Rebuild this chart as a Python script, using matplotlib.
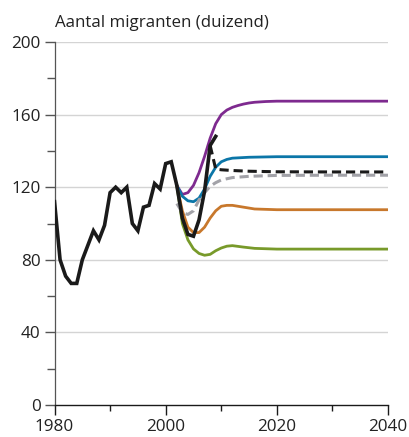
import matplotlib.pyplot as plt
from matplotlib.ticker import MultipleLocator

# historic series (black)
hist_years = list(range(1980, 2010))
hist_vals = [112, 80, 71, 67, 67, 80, 88, 96, 91, 99,
             117, 120, 117, 120, 100, 96, 109, 110, 122, 119,
             133, 134, 121, 103, 94, 93, 102, 118, 143, 148]

# scenarios
purple_years = [2002, 2003, 2004, 2005, 2006, 2007, 2008, 2009, 2010, 2011, 2012, 2013, 2014, 2015, 2016, 2018, 2020, 2030, 2040]
purple_vals = [121, 116, 117, 121, 128, 137, 147, 155, 160, 162.5, 164, 165, 165.8, 166.4, 166.8, 167.2, 167.4, 167.4, 167.4]

blue_years = [2002, 2003, 2004, 2005, 2006, 2007, 2008, 2009, 2010, 2011, 2012, 2015, 2020, 2030, 2040]
blue_vals = [121, 115, 112.5, 112, 114, 119, 126, 131, 134, 135.3, 136, 136.5, 136.8, 136.8, 136.8]

orange_years = [2002, 2003, 2004, 2005, 2006, 2007, 2008, 2009, 2010, 2011, 2012, 2014, 2016, 2020, 2030, 2040]
orange_vals = [121, 107, 98, 95, 95, 98, 103, 107, 109.5, 110, 110, 109, 108, 107.6, 107.6, 107.6]

green_years = [2002, 2003, 2004, 2005, 2006, 2007, 2008, 2009, 2010, 2011, 2012, 2014, 2016, 2020, 2030, 2040]
green_vals = [121, 100, 91, 86, 83.5, 82.5, 83, 85, 86.5, 87.5, 87.8, 87, 86.3, 85.9, 85.9, 85.9]

gray_years = [2002, 2003, 2004, 2005, 2006, 2007, 2008, 2009, 2010, 2012, 2015, 2020, 2030, 2040]
gray_vals = [111, 106, 105, 107, 113, 117, 120.5, 122.5, 124, 125.3, 126, 126.5, 126.6, 126.6]

bdash_years = [2008, 2009, 2010, 2012, 2015, 2020, 2030, 2040]
bdash_vals = [143, 130, 129.6, 129.2, 128.8, 128.5, 128.4, 128.4]

fig = plt.figure(figsize=(4.09, 4.37), dpi=100)
ax = fig.add_axes([0.1333, 0.0732, 0.8154, 0.8307])

ax.set_xlim(1980, 2040)
ax.set_ylim(0, 200)

for y in [40, 80, 120, 160, 200]:
    ax.axhline(y, color='#d4d4d4', lw=1.0, zorder=0)

ax.plot(purple_years, purple_vals, color='#7e2a8f', lw=2.0, zorder=2)
ax.plot(blue_years, blue_vals, color='#0b76a8', lw=2.0, zorder=2)
ax.plot(orange_years, orange_vals, color='#c8782c', lw=2.0, zorder=2)
ax.plot(green_years, green_vals, color='#789a2a', lw=2.0, zorder=2)
ax.plot(gray_years, gray_vals, color='#a2a2a8', lw=2.2, ls=(0, (3, 1.6)), zorder=2)
ax.plot(bdash_years, bdash_vals, color='#1a1a1a', lw=2.2, ls=(0, (3, 1.6)), zorder=3)
ax.plot(hist_years, hist_vals, color='#1a1a1a', lw=2.6, zorder=4, solid_joinstyle='miter')

for s in ['top', 'right']:
    ax.spines[s].set_visible(False)
ax.spines['left'].set_color('#555555')
ax.spines['bottom'].set_color('#1a1a1a')
ax.spines['left'].set_linewidth(0.9)
ax.spines['bottom'].set_linewidth(1.0)

ax.xaxis.set_major_locator(MultipleLocator(20))
ax.xaxis.set_minor_locator(MultipleLocator(10))
ax.yaxis.set_major_locator(MultipleLocator(40))
ax.yaxis.set_minor_locator(MultipleLocator(20))

ax.tick_params(axis='x', which='major', length=7, width=1.0, color='#1a1a1a', pad=3)
ax.tick_params(axis='x', which='minor', length=4, width=1.0, color='#1a1a1a')
ax.tick_params(axis='y', which='major', length=7, width=1.0, color='#555555', pad=3)
ax.tick_params(axis='y', which='minor', length=6, width=1.0, color='#555555')
ax.tick_params(labelsize=12.3, labelcolor='#222222')
for lab in ax.get_xticklabels() + ax.get_yticklabels():
    lab.set_family('Open Sans')

fig.text(0.1345, 0.948, 'Aantal migranten (duizend)', fontsize=12.2, family='Open Sans',
         color='#222222', ha='left', va='center')

fig.savefig('out.png', dpi=100)
